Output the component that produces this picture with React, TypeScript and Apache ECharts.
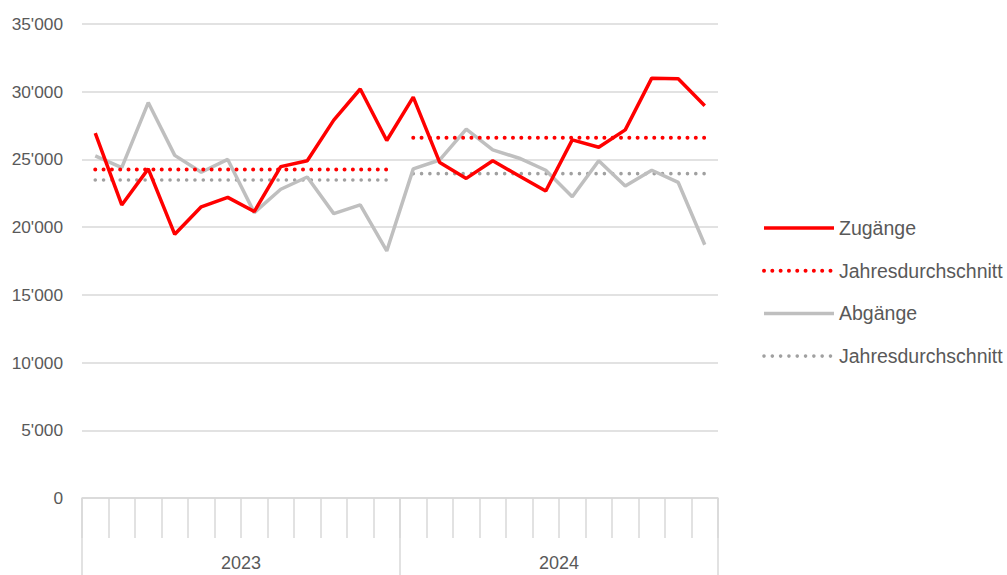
import React, { useEffect, useRef } from "react";
import * as echarts from "echarts";

const months = [
  "2023-01", "2023-02", "2023-03", "2023-04", "2023-05", "2023-06",
  "2023-07", "2023-08", "2023-09", "2023-10", "2023-11", "2023-12",
  "2024-01", "2024-02", "2024-03", "2024-04", "2024-05", "2024-06",
  "2024-07", "2024-08", "2024-09", "2024-10", "2024-11", "2024-12",
];
const years = ["2023", "2024"];
const zugaenge = [
  26940, 21640, 24300, 19470, 21500, 22200, 21150, 24470, 24900, 27900, 30200, 26400,
  29600, 24770, 23600, 24900, 23780, 22670, 26440, 25900, 27180, 31000, 30950, 28970,
];
const abgaenge = [
  25260, 24400, 29200, 25300, 24050, 25000, 21070, 22800, 23700, 21000, 21640, 18240,
  24300, 24960, 27230, 25700, 25090, 24200, 22250, 24900, 23040, 24200, 23300, 18700,
];
const avgZugaenge = [24250, 26600];
const avgAbgaenge = [23480, 23950];
const yTicks = [0, 5000, 10000, 15000, 20000, 25000, 30000, 35000];

const FONT = "'Liberation Sans', Arial, sans-serif";
const TXT = "#595959";
const GRIDC = "#d9d9d9";
const RED = "#ff0000";
const GRAY = "#bfbfbf";
const GRAYDOT = "#a0a0a0";

function yearSegment(avg: number[], yearIdx: number) {
  return months.map((_, i) => (Math.floor(i / 12) === yearIdx ? avg[yearIdx] : null));
}

export default function App() {
  const ref = useRef<HTMLDivElement>(null);
  useEffect(() => {
    if (!ref.current) return;
    const chart = echarts.init(ref.current, undefined, { renderer: "svg" });
    const redSolid = { color: RED, width: 3.5 };
    const graySolid = { color: GRAY, width: 3.5 };
    const redDots = { color: RED, width: 4, type: [0.01, 8.3], cap: "round" };
    const grayDots = { color: GRAYDOT, width: 3.6, type: [0.01, 8.3], cap: "round" };
    const avgName1 = "Jahresdurchschnitt Zugänge";
    const avgName2 = "Jahresdurchschnitt Abgänge";
    chart.setOption({
      animation: false,
      grid: { left: 82, right: 289, top: 24, bottom: 77, containLabel: false },
      legend: {
        orient: "vertical",
        left: 757,
        top: 213,
        itemWidth: 70,
        itemHeight: 14,
        itemGap: 22.7,
        itemStyle: { opacity: 0 },
        data: [
          { name: "Zugänge", lineStyle: redSolid },
          { name: avgName1, lineStyle: redDots },
          { name: "Abgänge", lineStyle: graySolid },
          { name: avgName2, lineStyle: grayDots },
        ],
        formatter: (n: string) => (n.startsWith("Jahres") ? "Jahresdurchschnitt" : n),
        textStyle: { fontFamily: FONT, fontSize: 19.5, lineHeight: 20, color: TXT },
        selectedMode: false,
      },
      xAxis: [
        {
          type: "category",
          data: months,
          boundaryGap: true,
          axisLine: { lineStyle: { color: GRIDC, width: 1.5 } },
          axisTick: { show: true, interval: 0, length: 40, lineStyle: { color: GRIDC, width: 1.5 } },
          axisLabel: { show: false },
        },
        {
          type: "category",
          data: years,
          position: "bottom",
          boundaryGap: true,
          axisLine: { show: false },
          axisTick: { show: true, interval: 0, length: 77, lineStyle: { color: GRIDC, width: 1.5 } },
          axisLabel: { show: true, margin: 56, fontFamily: FONT, fontSize: 18, color: TXT },
        },
      ],
      yAxis: {
        type: "value",
        min: 0,
        max: 35000,
        interval: 5000,
        axisLine: { show: false },
        axisTick: { show: false },
        splitLine: { lineStyle: { color: GRIDC, width: 1.5 } },
        axisLabel: {
          margin: 19,
          fontFamily: FONT,
          fontSize: 17.3,
          color: TXT,
          formatter: (v: number) =>
            yTicks.includes(v) ? String(v).replace(/\B(?=(\d{3})+(?!\d))/g, "'") : "",
        },
      },
      series: [
        {
          name: "Zugänge",
          type: "line",
          data: zugaenge,
          symbol: "none",
          lineStyle: redSolid,
          itemStyle: { color: RED },
          z: 4,
        },
        {
          name: avgName1,
          type: "line",
          data: yearSegment(avgZugaenge, 0),
          symbol: "none",
          lineStyle: redDots,
          itemStyle: { color: RED },
          z: 3,
        },
        {
          name: avgName1,
          type: "line",
          data: yearSegment(avgZugaenge, 1),
          symbol: "none",
          lineStyle: redDots,
          itemStyle: { color: RED },
          z: 3,
        },
        {
          name: "Abgänge",
          type: "line",
          data: abgaenge,
          symbol: "none",
          lineStyle: graySolid,
          itemStyle: { color: GRAY },
          z: 2,
        },
        {
          name: avgName2,
          type: "line",
          data: yearSegment(avgAbgaenge, 0),
          symbol: "none",
          lineStyle: grayDots,
          itemStyle: { color: GRAYDOT },
          z: 1,
        },
        {
          name: avgName2,
          type: "line",
          data: yearSegment(avgAbgaenge, 1),
          symbol: "none",
          lineStyle: grayDots,
          itemStyle: { color: GRAYDOT },
          z: 1,
        },
      ],
    });
    return () => chart.dispose();
  }, []);
  return <div ref={ref} style={{ width: 1007, height: 575, position: "absolute", left: 0, top: 0 }} />;
}
